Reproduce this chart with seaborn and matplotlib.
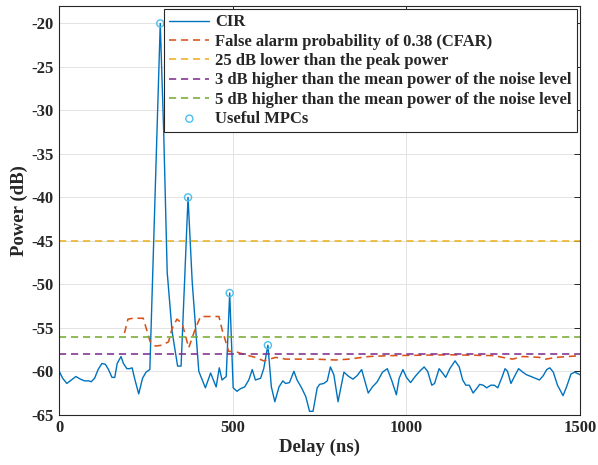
import pandas as pd
import matplotlib
matplotlib.use("Agg")
import matplotlib.pyplot as plt
import seaborn as sns

# CIR samples (delay in ns, power in dB)
cir_delay = [0, 10, 22, 35, 48, 61, 73, 85, 92, 102, 112, 123, 133, 142, 152, 160,
             167, 178, 185, 195, 202, 210, 217, 229, 240, 250, 261, 291, 301, 311,
             325, 341, 351, 371, 383, 402, 421, 436, 442, 452, 461, 469, 481, 491,
             501, 512, 522, 534, 546, 556, 565, 580, 589, 601, 611, 621, 633, 644,
             652, 663, 676, 685, 698, 710, 721, 731, 743, 750, 762, 772, 781, 791,
             803, 820, 834, 846, 858, 871, 890, 902, 916, 931, 945, 958, 971, 979,
             990, 1000, 1012, 1025, 1038, 1051, 1061, 1073, 1081, 1094, 1104, 1113,
             1125, 1140, 1152, 1162, 1171, 1181, 1192, 1202, 1211, 1221, 1231, 1243,
             1253, 1263, 1275, 1284, 1291, 1301, 1311, 1323, 1335, 1346, 1359, 1371,
             1383, 1394, 1404, 1413, 1423, 1435, 1451, 1461, 1474, 1485, 1500]
cir_power = [-60.0, -60.8, -61.4, -61.0, -60.6, -60.9, -61.1, -61.1, -61.2, -60.8,
             -59.8, -59.1, -59.2, -59.8, -60.7, -60.7, -59.1, -58.3, -59.1, -59.7,
             -59.7, -59.6, -60.8, -62.6, -60.8, -60.1, -59.8, -20.0, -32.6, -48.6,
             -55.4, -59.4, -59.4, -40.0, -49.7, -60.0, -61.9, -60.2, -60.8, -61.8,
             -59.6, -61.0, -60.6, -51.0, -61.9, -62.3, -62.0, -61.8, -61.0, -59.8,
             -61.0, -60.8, -59.7, -57.0, -61.8, -63.5, -61.8, -61.1, -61.4, -61.3,
             -60.0, -61.0, -61.9, -62.9, -64.6, -64.6, -61.9, -61.5, -61.4, -61.1,
             -59.5, -60.4, -63.5, -60.1, -60.6, -60.9, -60.5, -59.8, -62.5, -61.8,
             -61.2, -60.1, -59.7, -61.1, -62.7, -60.8, -59.8, -60.7, -61.3, -60.6,
             -60.0, -59.5, -60.0, -61.6, -61.4, -59.7, -60.2, -60.7, -59.7, -58.8,
             -59.5, -61.0, -61.6, -61.6, -62.5, -62.0, -61.5, -61.6, -61.9, -61.6,
             -61.6, -61.9, -60.7, -59.7, -60.0, -61.4, -60.6, -59.7, -60.1, -60.4,
             -60.6, -60.8, -61.0, -60.5, -59.8, -59.6, -60.1, -61.6, -62.8, -61.8,
             -60.3, -60.1, -60.4]

# CFAR threshold
cfar_delay = [188, 198, 213, 242, 262, 277, 296, 315, 325, 339, 354, 373, 392, 407,
              460, 469, 488, 512, 536, 565, 589, 623, 652, 738, 796, 834, 892, 950,
              1128, 1253, 1277, 1306, 1335, 1383, 1402, 1431, 1500]
cfar_power = [-55.6, -54.0, -53.9, -53.9, -56.6, -57.1, -57.0, -56.6, -55.1, -54.0,
              -54.5, -57.3, -55.1, -53.7, -53.7, -55.2, -57.7, -57.8, -58.1, -58.4,
              -58.8, -58.4, -58.6, -58.6, -58.7, -58.6, -58.3, -58.2, -58.1, -58.2,
              -58.4, -58.6, -58.3, -58.4, -58.6, -58.4, -58.2]

# fixed thresholds
peak_minus_25 = -45.0
noise_plus_3 = -58.0
noise_plus_5 = -56.0
span = [0, 1500]

# useful multipath components
mpc_delay = [291, 371, 491, 601]
mpc_power = [-20.0, -40.0, -51.0, -57.0]

sns.set_theme(style="whitegrid")
plt.rcParams["font.family"] = ["Liberation Serif", "DejaVu Serif"]
plt.rcParams["font.weight"] = "bold"
plt.rcParams["axes.unicode_minus"] = False

fig, ax = plt.subplots(figsize=(5.98, 4.65), dpi=100)
fig.subplots_adjust(left=0.099, right=0.970, top=0.987, bottom=0.108)

dash = (4.5, 3.0)
lw = 1.15

sns.lineplot(x=cir_delay, y=cir_power, ax=ax, color="#0072BD", lw=1.0,
             sort=False, estimator=None, label="CIR")
sns.lineplot(x=cfar_delay, y=cfar_power, ax=ax, color="#D95319", lw=lw,
             sort=False, estimator=None,
             label="False alarm probability of 0.38 (CFAR)")
ax.lines[-1].set_dashes(dash)

thresholds = [
    (peak_minus_25, "#EDB120", "25 dB lower than the peak power"),
    (noise_plus_3, "#7E2F8E", "3 dB higher than the mean power of the noise level"),
    (noise_plus_5, "#77AC30", "5 dB higher than the mean power of the noise level"),
]
for level, col, lab in thresholds:
    sns.lineplot(x=span, y=[level, level], ax=ax, color=col, lw=lw,
                 estimator=None, label=lab)
    ax.lines[-1].set_dashes(dash)

sns.scatterplot(x=mpc_delay, y=mpc_power, ax=ax, marker="o", s=26,
                facecolors="none", edgecolor="#4DBEEE", linewidth=1.0,
                label="Useful MPCs", zorder=5)

ax.set_xlim(0, 1500)
ax.set_ylim(-65, -18)
ax.set_xticks([0, 500, 1000, 1500])
ax.set_yticks(range(-65, -19, 5))
ax.set_xlabel("Delay (ns)", fontsize=13.5, fontweight="bold", labelpad=2)
ax.set_ylabel("Power (dB)", fontsize=13.5, fontweight="bold", labelpad=2)
ax.tick_params(axis="both", labelsize=12, direction="in", length=4, width=0.7,
               top=True, right=True, colors="#262626", pad=4)
for t in ax.get_xticklabels() + ax.get_yticklabels():
    t.set_fontweight("bold")
ax.grid(True, color="#e3e3e3", lw=0.7)
for s in ax.spines.values():
    s.set_color("#262626")
    s.set_linewidth(0.8)

leg = ax.legend(loc="upper right", frameon=True, fancybox=False,
                edgecolor="#262626", framealpha=1, borderpad=0.3,
                labelspacing=0.2, handlelength=2.4, handletextpad=0.35,
                borderaxespad=0.2, prop={"family": ["Liberation Serif"],
                                         "weight": "bold", "size": 12})
leg.get_frame().set_linewidth(0.8)
for t in leg.get_texts():
    t.set_fontweight("bold")

fig.savefig("out.png", dpi=100)
